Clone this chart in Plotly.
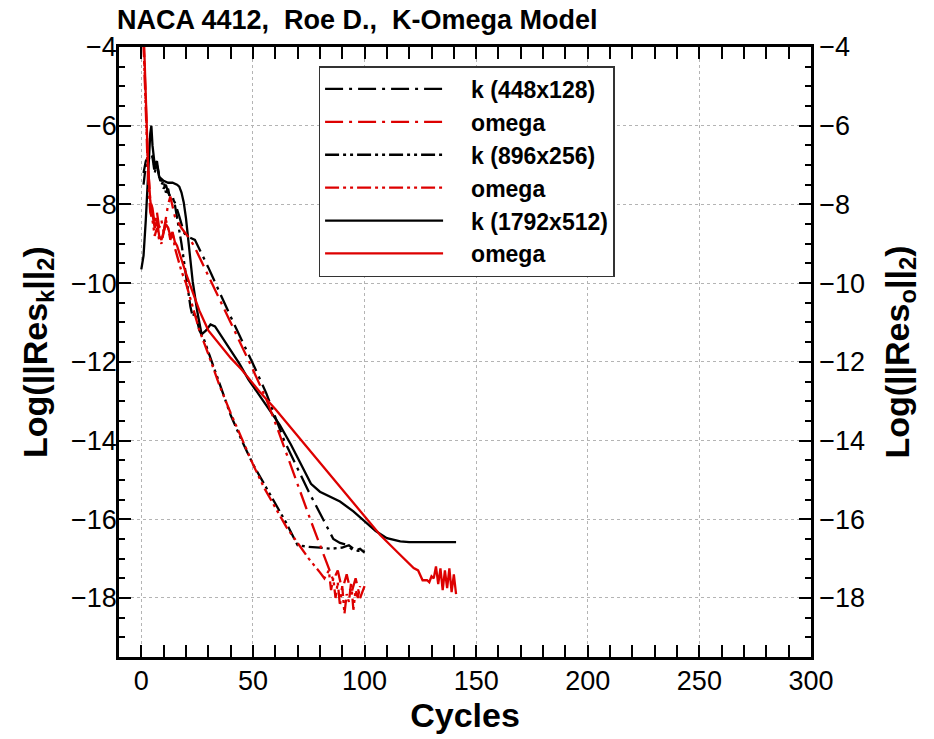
import plotly.graph_objects as go

# ---------------- data ----------------
k448_x = [1, 2, 3, 4, 5, 6, 7, 8, 9, 10, 11, 12, 13, 14, 15, 16, 17, 18, 19, 20, 22, 24, 30, 40, 50, 56, 64, 75, 86, 89, 92, 95, 98, 100]
k448_y = [-7.2, -6.9, -6.8, -6.7, -6.75, -7.1, -7.0, -7.3, -7.4, -7.6, -7.5, -7.7, -7.8, -7.85, -7.95, -8.1, -8.3, -8.5, -8.7, -8.8, -8.85, -8.9,
          -9.6, -10.85, -12.05, -12.8, -14.0, -15.3, -16.5, -16.6, -16.65, -16.8, -16.75, -16.85]

om448_x = [1, 2, 3, 4, 5, 6, 7, 8, 9, 10, 11, 12, 13, 14, 15, 16, 18, 20, 22, 24, 30, 40, 50, 56, 61, 66, 71, 76, 81, 86,
           88, 90, 92, 94, 96, 98, 100]
om448_y = [-3.8, -5.6, -7.0, -7.9, -8.1, -8.5, -8.2, -8.6, -8.4, -8.7, -8.3, -8.0, -7.8, -8.1, -8.3, -8.4, -8.6, -8.75, -8.9, -9.1,
           -9.8, -11.0, -12.2, -12.95, -13.7, -14.5, -15.3, -16.05, -16.8, -17.55,
           -17.3, -17.8, -17.4, -17.9, -17.5, -18.0, -17.7]

k896_x = [1, 2, 3, 4, 5, 6, 7, 8, 9, 10, 11, 12, 13, 14, 15, 16, 17, 18, 19, 20, 21, 22, 23, 24, 25, 26, 28, 32, 36, 40, 45,
          50, 55, 60, 65, 70, 75, 80, 85, 90, 93, 95, 97, 100]
k896_y = [-7.5, -7.0, -6.9, -6.75, -6.8, -7.2, -6.95, -7.3, -7.5, -7.4, -7.7, -7.6, -7.9, -7.8, -8.0, -8.3, -8.6, -9.0, -9.4, -9.8,
          -10.2, -10.6, -10.85, -10.75, -10.95, -11.2, -11.42, -12.05, -12.7, -13.35, -14.0,
          -14.6, -15.1, -15.6, -16.1, -16.66, -16.7, -16.72, -16.75, -16.72, -16.66, -16.75, -16.8, -16.8]

om896_x = [1, 2, 3, 4, 5, 6, 7, 8, 9, 10, 11, 12, 13, 14, 15, 16, 17, 18, 20, 22, 24, 26, 30, 35, 40, 45, 50, 55, 60, 65, 70,
           75, 80, 82, 84, 85, 86, 87, 88, 89, 90, 91, 92, 93, 94, 95, 96, 97, 98]
om896_y = [-3.9, -5.8, -7.3, -8.2, -8.4, -8.8, -8.6, -8.9, -9.0, -8.7, -8.4, -8.6, -8.9, -8.7, -9.1, -9.3, -9.5, -9.7, -10.0,
           -10.4, -10.8, -11.2, -11.8, -12.6, -13.3, -13.95, -14.6, -15.2, -15.7, -16.2, -16.6,
           -17.0, -17.35, -17.5, -17.3, -17.8, -17.5, -18.0, -17.6, -18.2, -17.7, -18.4, -17.9, -18.1, -17.6, -18.3, -17.8, -18.0, -17.7]

k1792_x = [0, 1, 2, 3, 4, 4.5, 5, 6, 7, 8, 9, 10, 12, 14, 16, 17, 18, 19, 20, 21, 22, 23, 25, 27, 29, 31, 33, 36, 40, 44, 48,
           53, 58, 62, 67, 72, 76, 80, 85, 89, 95, 100, 105, 110, 116, 120, 130, 141]
k1792_y = [-9.65, -9.3, -8.4, -7.1, -6.2, -6.0, -6.5, -7.0, -6.9, -7.3, -7.35, -7.4, -7.45, -7.45, -7.5, -7.55, -7.7, -7.95,
           -8.35, -8.9, -9.5, -9.95, -10.7, -11.3, -11.2, -11.05, -11.1, -11.35, -11.7, -12.05, -12.45,
           -12.85, -13.25, -13.6, -14.1, -14.65, -15.1, -15.3, -15.45, -15.55, -15.8, -16.05, -16.3, -16.48, -16.56,
           -16.58, -16.58, -16.58]

om1792_x = [1, 2, 3, 4, 5, 6, 7, 8, 9, 10, 11, 12, 13, 14, 15, 16, 17, 18, 20, 23, 26, 30, 35, 40, 45, 53, 60, 71, 76, 85,
            95, 107, 115, 122, 124, 126, 128, 129, 130, 131, 132, 133, 134, 135, 136, 137, 138, 139, 140, 141]
om1792_y = [-3.5, -5.6, -7.0, -7.9, -8.3, -8.6, -8.4, -8.8, -8.9, -8.7, -8.5, -8.6, -8.8, -8.7, -8.95, -9.05, -9.2, -9.4,
            -9.75, -10.25, -10.7, -11.2, -11.55, -11.9, -12.2, -12.76, -13.2, -13.95, -14.28, -14.9,
            -15.6, -16.4, -16.85, -17.24, -17.3, -17.55, -17.55, -17.6, -17.45, -17.5, -17.2, -17.65, -17.25, -17.8,
            -17.3, -17.75, -17.25, -17.85, -17.4, -17.9]

legend_names = ["k (448x128)", "omega", "k (896x256)", "omega", "k (1792x512)", "omega"]

x_range = [-10, 300]
y_range = [-19.5, -4]

# ---------------- styling ----------------
BLACK = "#000000"
RED = "#dd0000"
DASHDOT = "18px,6px,3px,6px"
DASHDOTDOT = "14px,4px,3px,4px,3px,4px"
LW = 2.3

series = [
    (k448_x, k448_y, BLACK, DASHDOT, "y"),
    (om448_x, om448_y, RED, DASHDOT, "y2"),
    (k896_x, k896_y, BLACK, DASHDOTDOT, "y"),
    (om896_x, om896_y, RED, DASHDOTDOT, "y2"),
    (k1792_x, k1792_y, BLACK, "solid", "y"),
    (om1792_x, om1792_y, RED, "solid", "y2"),
]

fig = go.Figure()
for (xs, ys, col, dash, yax), name in zip(series, legend_names):
    fig.add_trace(go.Scatter(x=xs, y=ys, mode="lines", name="\u2003<b>" + name + "</b>", yaxis=yax,
                             line=dict(color=col, width=LW, dash=dash)))

TICKFONT = dict(family="Liberation Sans Narrow, Liberation Sans, Arial", size=27, color="black")
TITLEFONT = dict(family="Liberation Sans, Arial", size=34, color="black")

common_axis = dict(
    showline=True, linecolor="black", linewidth=2.5,
    ticks="inside", ticklen=12, tickwidth=2, tickcolor="black",
    tickfont=TICKFONT, zeroline=False,
)

fig.update_layout(
    width=934, height=739,
    margin=dict(l=119, r=123, t=47, b=82),
    paper_bgcolor="white", plot_bgcolor="white",
    title=dict(text="<b>NACA 4412,  Roe D.,  K-Omega Model</b>",
               x=117 / 934, xanchor="left", y=1 - 20 / 739, yanchor="middle",
               font=dict(family="Liberation Sans, Arial", size=27, color="black")),
    xaxis=dict(range=x_range, dtick=50, tick0=0, mirror="allticks",
               showgrid=True, gridcolor="#b4b4b4", griddash="dot", gridwidth=1,
               minor=dict(dtick=10, tick0=0, ticks="inside", ticklen=6, tickwidth=1.5, tickcolor="black",
                          showgrid=False),
               ticklabelstandoff=-2,
               title=dict(text="<b>Cycles</b>", font=TITLEFONT, standoff=6),
               **common_axis),
    yaxis=dict(range=y_range, dtick=2, tick0=-4,
               showgrid=True, gridcolor="#b4b4b4", griddash="dot", gridwidth=1,
               minor=dict(dtick=0.5, tick0=-4, ticks="inside", ticklen=6, tickwidth=1.5, tickcolor="black",
                          showgrid=False),
               ticklabelstandoff=-6,
               title=dict(text="<b>Log(||Res<sub>k</sub>||<sub>2</sub>)</b>", font=TITLEFONT, standoff=14),
               **common_axis),
    yaxis2=dict(range=y_range, dtick=2, tick0=-4, overlaying="y", side="right",
                showgrid=False,
                minor=dict(dtick=0.5, tick0=-4, ticks="inside", ticklen=6, tickwidth=1.5, tickcolor="black"),
                title=dict(text="<b>Log(||Res<sub>o</sub>||<sub>2</sub>)</b>", font=TITLEFONT, standoff=22),
                **common_axis),
    legend=dict(x=(318 - 119) / 690, y=(657 - 66) / 610, xanchor="left", yanchor="top",
                bgcolor="white", bordercolor="#333333", borderwidth=1.5,
                font=dict(family="Liberation Sans, Arial", size=23, color="black"),
                itemwidth=118, tracegroupgap=0),
    showlegend=True,
)

fig.write_html("out.html")
